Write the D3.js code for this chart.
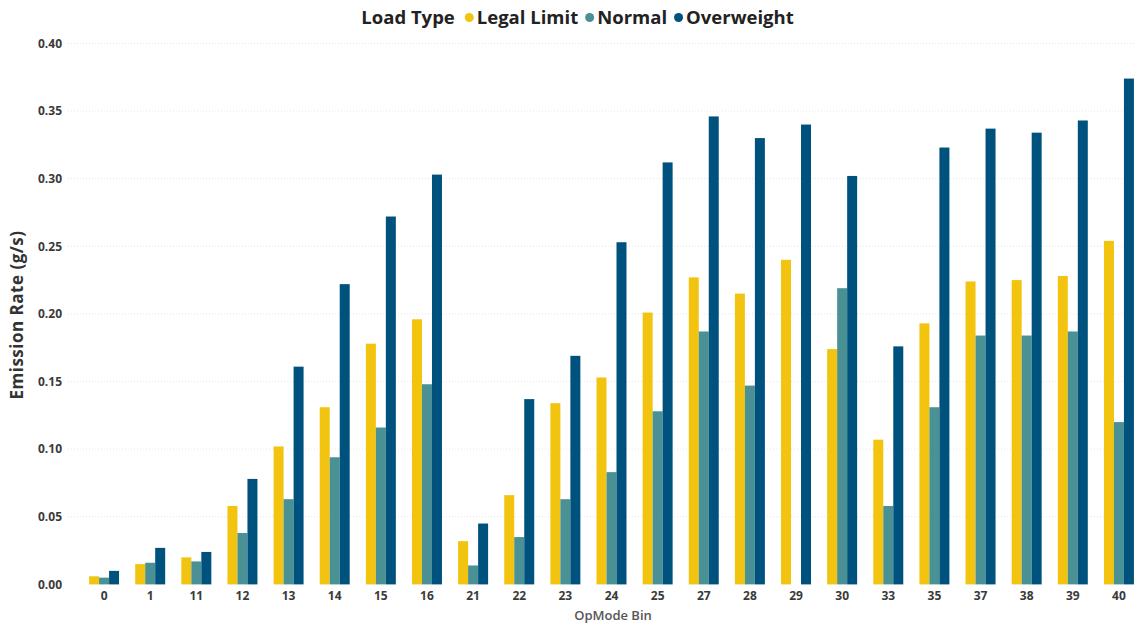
<!DOCTYPE html>
<html>
<head>
<meta charset="utf-8">
<script src="https://cdn.jsdelivr.net/npm/d3@7"></script>
<style>
  html, body { margin: 0; padding: 0; background: #fff; overflow: hidden; }
  svg { display: block; font-family: "Open Sans", "Noto Sans", sans-serif; }
</style>
</head>
<body>
<svg id="chart" width="1135" height="626"></svg>
<script>
const categories = ["0","1","11","12","13","14","15","16","21","22","23","24","25","27","28","29","30","33","35","37","38","39","40"];
const seriesNames = ["Legal Limit","Normal","Overweight"];
const legalLimit = [0.006,0.015,0.020,0.058,0.102,0.131,0.178,0.196,0.032,0.066,0.134,0.153,0.201,0.227,0.215,0.240,0.174,0.107,0.193,0.224,0.225,0.228,0.254];
const normal     = [0.005,0.016,0.017,0.038,0.063,0.094,0.116,0.148,0.014,0.035,0.063,0.083,0.128,0.187,0.147,0,    0.219,0.058,0.131,0.184,0.184,0.187,0.120];
const overweight = [0.010,0.027,0.024,0.078,0.161,0.222,0.272,0.303,0.045,0.137,0.169,0.253,0.312,0.346,0.330,0.340,0.302,0.176,0.323,0.337,0.334,0.343,0.374];
const yTicks = [0,0.05,0.10,0.15,0.20,0.25,0.30,0.35,0.40];
const colors = ["#F2C40F","#4A9196","#00527E"];

(function () {
const svg = d3.select("#chart");
const W = 1135, H = 626;
const values = [legalLimit, normal, overweight];

const mLeft = 81, mRight = 1142, mTop = 43.4, mBottom = 584.4;

const x0 = d3.scaleBand().domain(categories).range([mLeft, mRight]).paddingInner(0.35).paddingOuter(0.175);
const x1 = d3.scaleBand().domain(seriesNames).range([0, x0.bandwidth()]).padding(0);
const y = d3.scaleLinear().domain([0, 0.40]).range([mBottom, mTop]);
const color = d3.scaleOrdinal().domain(seriesNames).range(colors);

// gridlines
svg.append("g").selectAll("line").data(yTicks.slice(1)).join("line")
  .attr("x1", 68).attr("x2", W)
  .attr("y1", d => y(d)).attr("y2", d => y(d))
  .attr("stroke", "#e6e6e6").attr("stroke-width", 1).attr("stroke-dasharray", "1,2");

// y axis
const yAxis = d3.axisLeft(y).tickValues(yTicks).tickFormat(d3.format(".2f")).tickSize(0).tickPadding(0);
const gy = svg.append("g").attr("transform", "translate(62,0)").call(yAxis);
gy.select(".domain").remove();
gy.selectAll("text").attr("font-size", 12).attr("font-weight", 700).attr("fill", "#3a3a3a")
  .attr("font-family", "'Open Sans', sans-serif");

// x axis
const xAxis = d3.axisBottom(x0).tickSize(0).tickPadding(7);
const gx = svg.append("g").attr("transform", `translate(0,${mBottom})`).call(xAxis);
gx.select(".domain").remove();
gx.selectAll("text").attr("font-size", 12).attr("font-weight", 700).attr("fill", "#3a3a3a")
  .attr("font-family", "'Open Sans', sans-serif");

// bars
const groups = svg.append("g").selectAll("g").data(categories).join("g")
  .attr("transform", d => `translate(${x0(d)},0)`);
groups.selectAll("rect")
  .data((c, i) => seriesNames.map((s, k) => ({ s, v: values[k][i] })))
  .join("rect")
  .attr("x", d => x1(d.s))
  .attr("width", x1.bandwidth())
  .attr("y", d => y(d.v))
  .attr("height", d => y(0) - y(d.v))
  .attr("fill", d => color(d.s));

// axis titles
svg.append("text")
  .attr("transform", `translate(23,315) rotate(-90)`)
  .attr("text-anchor", "middle")
  .attr("font-size", 17).attr("font-weight", 700).attr("fill", "#333")
  .attr("letter-spacing", 0.5)
  .text("Emission Rate (g/s)");

svg.append("text")
  .attr("x", 613).attr("y", 620)
  .attr("text-anchor", "middle")
  .attr("font-size", 13).attr("font-weight", 600).attr("fill", "#555")
  .text("OpMode Bin");

// legend
const lg = svg.append("g");
let cx = 0;
const fs = 18.5;
const title = lg.append("text").attr("x", cx).attr("y", 0)
  .attr("font-size", fs).attr("font-weight", 700).attr("fill", "#222").text("Load Type");
cx += title.node().getComputedTextLength() + 10;
seriesNames.forEach(s => {
  lg.append("circle").attr("cx", cx + 4.5).attr("cy", -6).attr("r", 4.5).attr("fill", color(s));
  cx += 12;
  const t = lg.append("text").attr("x", cx).attr("y", 0)
    .attr("font-size", fs).attr("font-weight", 700).attr("fill", "#222").text(s);
  cx += t.node().getComputedTextLength() + 7;
});
const totalW = cx - 7;
lg.attr("transform", `translate(${577.5 - totalW / 2},23.5)`);
})();
</script>
</body>
</html>
